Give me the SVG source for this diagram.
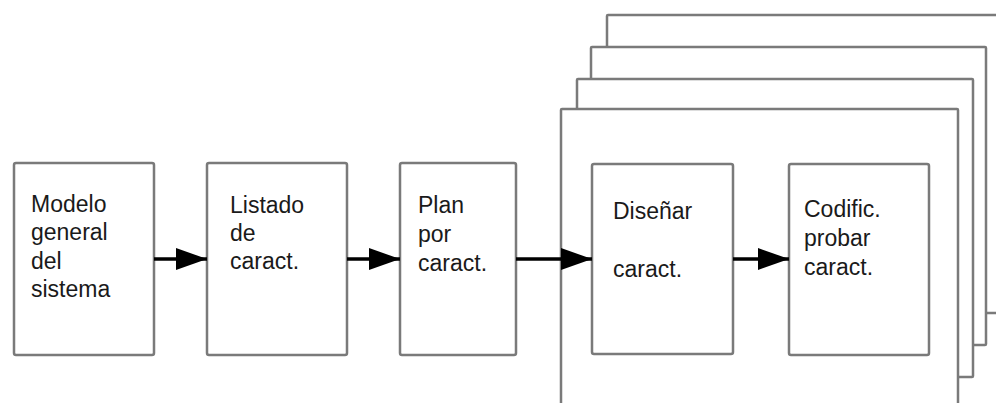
<svg xmlns="http://www.w3.org/2000/svg" width="996" height="403" viewBox="0 0 996 403">
<style>
.frame{fill:#fff;stroke:#7a7a7a;stroke-width:2.5}
.box{fill:#fff;stroke:#7a7a7a;stroke-width:2.5}
.lbl{font-family:"Liberation Sans",Arial,sans-serif;font-size:23px;fill:#1a1a1a}
.conn{stroke:#000;stroke-width:3.5;fill:none}
</style>
<defs>
<marker id="ah" markerUnits="userSpaceOnUse" markerWidth="32" markerHeight="24" refX="31" refY="12" orient="auto">
<path d="M0,1 L31,12 L0,23 Z" fill="#000"/>
</marker>
</defs>
<rect width="996" height="403" fill="#fff"/>
<g id="frames">
<rect class="frame" x="607" y="15" width="400" height="298" rx="1"/>
<rect class="frame" x="591" y="47" width="395" height="298" rx="1"/>
<rect class="frame" x="577" y="79" width="396" height="298" rx="1"/>
<rect class="frame" x="561" y="109" width="397" height="310" rx="1"/>
</g>
<g id="n1">
<rect class="box" x="14" y="163" width="140" height="192" rx="2"/>
<text class="lbl" x="31" y="212">Modelo</text>
<text class="lbl" x="31" y="240">general</text>
<text class="lbl" x="31" y="269">del</text>
<text class="lbl" x="31" y="297">sistema</text>
</g>
<g id="n2">
<rect class="box" x="207" y="163" width="140" height="192" rx="2"/>
<text class="lbl" x="230" y="213">Listado</text>
<text class="lbl" x="230" y="241">de</text>
<text class="lbl" x="230" y="269">caract.</text>
</g>
<g id="n3">
<rect class="box" x="400" y="163" width="116" height="192" rx="2"/>
<text class="lbl" x="418" y="213">Plan</text>
<text class="lbl" x="418" y="242">por</text>
<text class="lbl" x="418" y="271">caract.</text>
</g>
<g id="n4">
<rect class="box" x="592" y="164" width="141" height="190" rx="2"/>
<text class="lbl" x="613" y="219">Diseñar</text>
<text class="lbl" x="613" y="277">caract.</text>
</g>
<g id="n5">
<rect class="box" x="789" y="164" width="140" height="191" rx="2"/>
<text class="lbl" x="804" y="217">Codific.</text>
<text class="lbl" x="804" y="246">probar</text>
<text class="lbl" x="804" y="275">caract.</text>
</g>
<g id="connectors">
<line class="conn" x1="154" y1="259" x2="207" y2="259" marker-end="url(#ah)"/>
<line class="conn" x1="347" y1="259" x2="400" y2="259" marker-end="url(#ah)"/>
<line class="conn" x1="516" y1="259" x2="592" y2="259" marker-end="url(#ah)"/>
<line class="conn" x1="733" y1="259" x2="789" y2="259" marker-end="url(#ah)"/>
</g>
</svg>
